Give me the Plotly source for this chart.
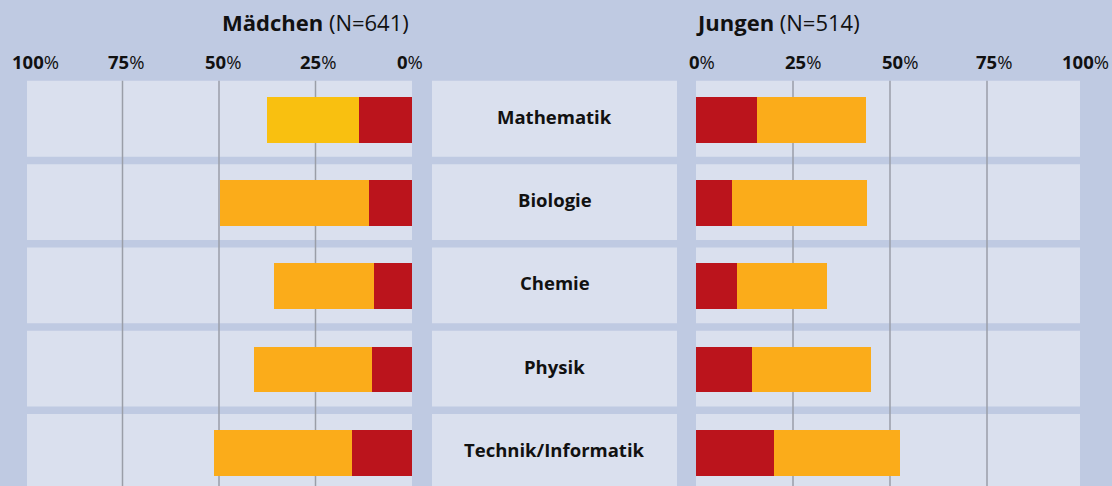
import plotly.graph_objects as go

W, H = 1112, 486

categories = ["Mathematik", "Biologie", "Chemie", "Physik", "Technik/Informatik"]
girls_red = [13.7, 11.1, 9.8, 10.4, 15.5]
girls_orange = [23.9, 38.6, 26.0, 30.5, 35.8]
boys_red = [15.7, 9.3, 10.6, 14.4, 20.1]
boys_orange = [28.1, 34.8, 23.2, 30.7, 32.5]
tick_vals = [100, 75, 50, 25, 0]
tick_text = ["<b>100</b>%", "<b>75</b>%", "<b>50</b>%", "<b>25</b>%", "<b>0</b>%"]
title_girls = "<b>Mädchen</b> (N=641)"
title_boys = "<b>Jungen</b> (N=514)"

BG = "#bfcae2"
PANEL = "#dae0ee"
RED = "#bb141c"
ORANGE = "#fbac1a"
YELLOW = "#f9c010"
GRID = "#9a9ea8"
FONT = "Open Sans"

def px(x):
    return x / W

# row pixel geometry
row0 = 120.0
step = 83.3
ybottom = (H - row0) / step
ytop = -0.5
dom_top = 1 - (row0 + ytop * step) / H

ys = list(range(len(categories)))

fig = go.Figure()
fig.add_trace(go.Bar(y=ys, x=girls_red, orientation="h", marker_color=RED,
                     xaxis="x", yaxis="y", width=0.55, showlegend=False))
fig.add_trace(go.Bar(y=ys, x=girls_orange, orientation="h",
                     marker_color=[YELLOW] + [ORANGE] * (len(categories) - 1),
                     xaxis="x", yaxis="y", width=0.55, showlegend=False))
fig.add_trace(go.Bar(y=ys, x=boys_red, orientation="h", marker_color=RED,
                     xaxis="x2", yaxis="y2", width=0.55, showlegend=False))
fig.add_trace(go.Bar(y=ys, x=boys_orange, orientation="h", marker_color=ORANGE,
                     xaxis="x2", yaxis="y2", width=0.55, showlegend=False))

for t in fig.data:
    t.marker.line.width = 0

shapes = []
for i in ys:
    y0, y1 = i - 0.47, i + 0.44
    for (a, b) in [(27, 412), (432, 677), (696, 1080)]:
        shapes.append(dict(type="rect", xref="paper", yref="y", x0=px(a), x1=px(b),
                           y0=y0, y1=y1, fillcolor=PANEL, line_width=0, layer="below"))
for v in [25, 50, 75]:
    shapes.append(dict(type="line", xref="x", yref="y", x0=v, x1=v, y0=-0.47, y1=ybottom,
                       line=dict(color=GRID, width=1.5), layer="between"))
    shapes.append(dict(type="line", xref="x2", yref="y2", x0=v, x1=v, y0=-0.47, y1=ybottom,
                       line=dict(color=GRID, width=1.5), layer="between"))

annotations = []
for i, c in enumerate(categories):
    annotations.append(dict(text="<b>%s</b>" % c, xref="paper", yref="y", x=px(554.5), y=i - 0.045,
                            xanchor="center", yanchor="middle",
                            showarrow=False, font=dict(size=18.5, color="#111", family=FONT)))
left_pos = [35, 125.5, 223, 317.5, 409.5]
right_pos = [701.7, 802.5, 899.5, 994, 1085]
for xp, t in zip(left_pos, tick_text):
    annotations.append(dict(text=t, xref="paper", yref="paper", x=px(xp), y=1 - 62 / H,
                            xanchor="center", yanchor="middle",
                            showarrow=False, font=dict(size=18.5, color="#111", family=FONT)))
for xp, t in zip(right_pos, tick_text[::-1]):
    annotations.append(dict(text=t, xref="paper", yref="paper", x=px(xp), y=1 - 62 / H,
                            xanchor="center", yanchor="middle",
                            showarrow=False, font=dict(size=18.5, color="#111", family=FONT)))
annotations.append(dict(text=title_girls, xref="paper", yref="paper", x=px(411), y=1 - 22 / H,
                        xanchor="right", yanchor="middle", showarrow=False,
                        font=dict(size=22, color="#111", family=FONT)))
annotations.append(dict(text=title_boys, xref="paper", yref="paper", x=px(694), y=1 - 22 / H,
                        xanchor="left", yanchor="middle", showarrow=False,
                        font=dict(size=22, color="#111", family=FONT)))

axis_common = dict(showgrid=False, zeroline=False, showticklabels=False, ticks="", showline=False)
fig.update_layout(
    width=W, height=H,
    margin=dict(l=0, r=0, t=0, b=0),
    paper_bgcolor=BG, plot_bgcolor="rgba(0,0,0,0)",
    barmode="stack", bargap=0,
    xaxis=dict(domain=[px(26), px(412)], range=[100, 0], fixedrange=True, **axis_common),
    xaxis2=dict(domain=[px(696), px(1084)], range=[0, 100], fixedrange=True, **axis_common),
    yaxis=dict(domain=[0, dom_top], range=[ybottom, ytop], anchor="x", fixedrange=True, **axis_common),
    yaxis2=dict(domain=[0, dom_top], range=[ybottom, ytop], anchor="x2", fixedrange=True, **axis_common),
    shapes=shapes, annotations=annotations,
    font=dict(family=FONT),
)

fig.write_html("out.html", config={"displayModeBar": False},
               post_script="document.body.style.margin='0';document.body.style.background='%s';" % BG)
